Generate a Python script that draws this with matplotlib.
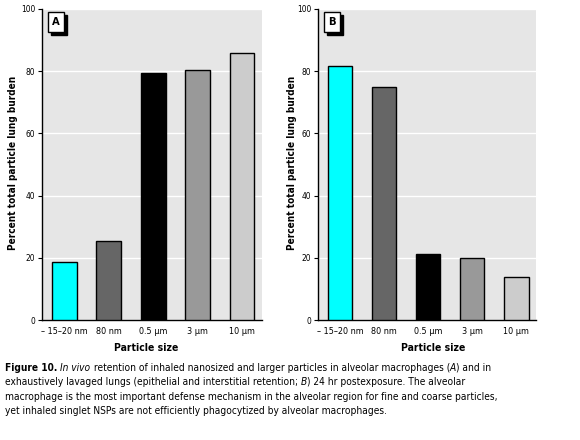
import matplotlib
matplotlib.use("Agg")
import matplotlib.pyplot as plt
from matplotlib.patches import Rectangle

plt.rcParams['font.family'] = ['DejaVu Sans']
plt.rcParams['font.stretch'] = 'condensed'

labels = ["\u2013 15\u201320 nm", "80 nm", "0.5 \u00b5m", "3 \u00b5m", "10 \u00b5m"]
colors = ["#00ffff", "#666666", "#000000", "#999999", "#cccccc"]
values_a = [18.5, 25.3, 79.4, 80.3, 86.0]
values_b = [81.6, 74.8, 21.1, 19.8, 13.7]
yticks = [0, 20, 40, 60, 80, 100]

W, H = 580, 440
fig = plt.figure(figsize=(5.8, 4.4), dpi=100)

def panel(left, right, values, tag, ylab_x, xlab_x):
    w = right - left
    ax = fig.add_axes([left / W, 1 - 320 / H, w / W, 311 / H])
    ax.set_facecolor("#e6e6e6")
    ax.bar(range(len(values)), values, width=0.56, color=colors,
           edgecolor="black", linewidth=1.0, zorder=3)
    ax.set_xlim(-0.5, 4.45)
    ax.set_ylim(0, 100)
    ax.set_yticks(yticks)
    ax.set_yticklabels([str(t) for t in yticks], fontsize=6)
    ax.set_xticks(range(len(labels)))
    ax.set_xticklabels(labels, fontsize=6.5)
    ax.tick_params(axis="x", length=0, pad=5)
    ax.tick_params(axis="y", length=3, width=0.8, pad=2)
    ax.yaxis.grid(True, color="white", linewidth=1.0, zorder=0)
    ax.set_axisbelow(True)
    for s in ["top", "right"]:
        ax.spines[s].set_visible(False)
    for s in ["left", "bottom"]:
        ax.spines[s].set_linewidth(1.0)
    ax.set_ylabel("Percent total particle lung burden", fontsize=7.2, fontweight="bold")
    ax.yaxis.set_label_coords((ylab_x - left) / w, 0.505)
    ax.set_xlabel("Particle size", fontsize=7.5, fontweight="bold")
    ax.xaxis.set_label_coords((xlab_x - left) / w, -28 / 311)
    ax.xaxis.label.set_va("center")
    ax.yaxis.label.set_va("center")
    # tag box with drop shadow (sizes in pixels)
    bx, by, bw, bh = 6 / w, 1 - 23 / 311, 16 / w, 20 / 311
    ax.add_patch(Rectangle((bx + 3 / w, by - 3 / 311), bw, bh, transform=ax.transAxes,
                           fc="black", ec="black", lw=1.0, zorder=5))
    ax.add_patch(Rectangle((bx, by), bw, bh, transform=ax.transAxes,
                           fc="white", ec="black", lw=1.0, zorder=6))
    ax.text(bx + bw / 2, by + bh / 2, tag, transform=ax.transAxes, fontsize=8,
            fontweight="bold", ha="center", va="center", zorder=7)
    return ax

panel(42, 262, values_a, "A", 13, 146)
panel(318, 536, values_b, "B", 292, 433)

# caption with mixed styles
caption = [
    [("Figure 10. ", "bold", "normal"), ("In vivo", "normal", "italic"),
     (" retention of inhaled nanosized and larger particles in alveolar macrophages (", "normal", "normal"),
     ("A", "normal", "italic"), (") and in", "normal", "normal")],
    [("exhaustively lavaged lungs (epithelial and interstitial retention; ", "normal", "normal"),
     ("B", "normal", "italic"), (") 24 hr postexposure. The alveolar", "normal", "normal")],
    [("macrophage is the most important defense mechanism in the alveolar region for fine and coarse particles,", "normal", "normal")],
    [("yet inhaled singlet NSPs are not efficiently phagocytized by alveolar macrophages.", "normal", "normal")],
]

fig.canvas.draw()
renderer = fig.canvas.get_renderer()
y0 = 368
for i, line in enumerate(caption):
    x = 5
    for txt, weight, style in line:
        t = fig.text(x / W, 1 - (y0 + i * 14.3) / H, txt, fontsize=7.3, fontweight=weight,
                     fontstyle=style, ha="left", va="center")
        bb = t.get_window_extent(renderer=renderer)
        x += bb.width

fig.savefig("out.png", dpi=100)
